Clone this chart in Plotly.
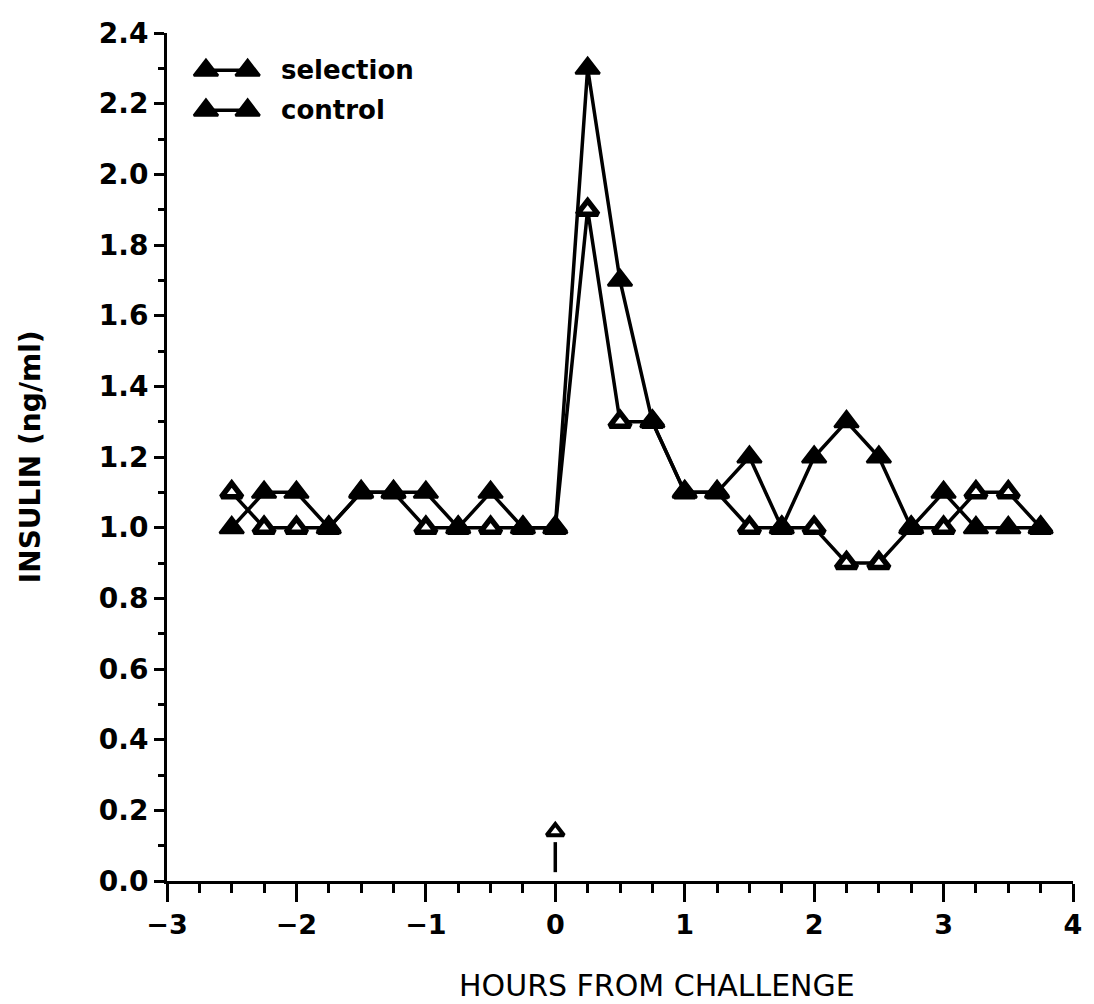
import plotly.graph_objects as go

hours = [-2.5, -2.25, -2.0, -1.75, -1.5, -1.25, -1.0, -0.75, -0.5, -0.25, 0.0,
         0.25, 0.5, 0.75, 1.0, 1.25, 1.5, 1.75, 2.0, 2.25, 2.5, 2.75, 3.0, 3.25, 3.5, 3.75]
selection = [1.0, 1.1, 1.1, 1.0, 1.1, 1.1, 1.1, 1.0, 1.1, 1.0, 1.0,
             2.3, 1.7, 1.3, 1.1, 1.1, 1.2, 1.0, 1.2, 1.3, 1.2, 1.0, 1.1, 1.0, 1.0, 1.0]
control = [1.1, 1.0, 1.0, 1.0, 1.1, 1.1, 1.0, 1.0, 1.0, 1.0, 1.0,
           1.9, 1.3, 1.3, 1.1, 1.1, 1.0, 1.0, 1.0, 0.9, 0.9, 1.0, 1.0, 1.1, 1.1, 1.0]
series_names = ["selection", "control"]
challenge_time = 0.0

FONT = "DejaVu Sans"
fig = go.Figure()

# control (open triangles) drawn first, selection (filled) on top
fig.add_trace(go.Scatter(
    x=hours, y=control, mode="lines+markers", name=series_names[1], showlegend=False,
    line=dict(color="black", width=3.5),
    marker=dict(symbol="triangle-up", size=18, color="white",
                line=dict(color="black", width=5.5))))
fig.add_trace(go.Scatter(
    x=hours, y=selection, mode="lines+markers", name=series_names[0], showlegend=False,
    line=dict(color="black", width=3.5),
    marker=dict(symbol="triangle-up", size=21, color="black",
                line=dict(color="black", width=2.5))))

# challenge arrow marker
fig.add_shape(type="line", x0=challenge_time, x1=challenge_time, y0=0.025, y1=0.11,
              line=dict(color="black", width=3.5))
fig.add_trace(go.Scatter(
    x=[challenge_time], y=[0.14], mode="markers", showlegend=False, hoverinfo="skip",
    marker=dict(symbol="triangle-up", size=15, color="white",
                line=dict(color="black", width=4))))

# custom legend on overlay axes
leg_y = [0.956, 0.909]
for i, nm in enumerate(series_names):
    fig.add_trace(go.Scatter(
        x=[0.043, 0.089], y=[leg_y[i], leg_y[i]], xaxis="x2", yaxis="y2",
        mode="lines+markers", showlegend=False, hoverinfo="skip",
        line=dict(color="black", width=3.5),
        marker=dict(symbol="triangle-up", size=21, color="black",
                    line=dict(color="black", width=2.5))))
    fig.add_annotation(x=0.124, y=leg_y[i], xref="x2", yref="y2", text="<b>%s</b>" % nm,
                       showarrow=False, xanchor="left", yanchor="middle",
                       font=dict(family=FONT, size=26, color="black"))

fig.update_layout(
    width=1094, height=1004,
    margin=dict(l=167, r=15, t=33, b=123),
    paper_bgcolor="white", plot_bgcolor="white",
    showlegend=False,
    xaxis=dict(range=[-3, 4], dtick=1, tick0=0, showgrid=False, zeroline=False,
               showline=True, linecolor="black", linewidth=3,
               ticks="outside", ticklen=18, tickwidth=3, tickcolor="black",
               minor=dict(dtick=0.25, ticks="outside", ticklen=9, tickwidth=3,
                          tickcolor="black", showgrid=False),
               tickfont=dict(family=FONT, size=27, color="black", weight="bold")),
    yaxis=dict(range=[0, 2.4], dtick=0.2, tick0=0, tickformat=".1f", showgrid=False,
               zeroline=False, showline=True, linecolor="black", linewidth=3,
               ticks="outside", ticklen=10, tickwidth=3, tickcolor="black",
               minor=dict(dtick=0.1, ticks="outside", ticklen=6, tickwidth=3,
                          tickcolor="black", showgrid=False),
               tickfont=dict(family=FONT, size=28, color="black", weight="bold")),
    xaxis2=dict(overlaying="x", range=[0, 1], visible=False),
    yaxis2=dict(overlaying="y", range=[0, 1], visible=False),
)

fig.add_annotation(x=0.541, y=-0.123, xref="paper", yref="paper",
                   text="HOURS FROM CHALLENGE", showarrow=False,
                   xanchor="center", yanchor="middle",
                   font=dict(family=FONT, size=30, color="black"))
fig.add_annotation(x=-0.151, y=0.5, xref="paper", yref="paper",
                   text="<b>INSULIN (ng/ml)</b>", showarrow=False, textangle=-90,
                   xanchor="center", yanchor="middle",
                   font=dict(family=FONT, size=28, color="black"))

fig.write_html("out.html")
